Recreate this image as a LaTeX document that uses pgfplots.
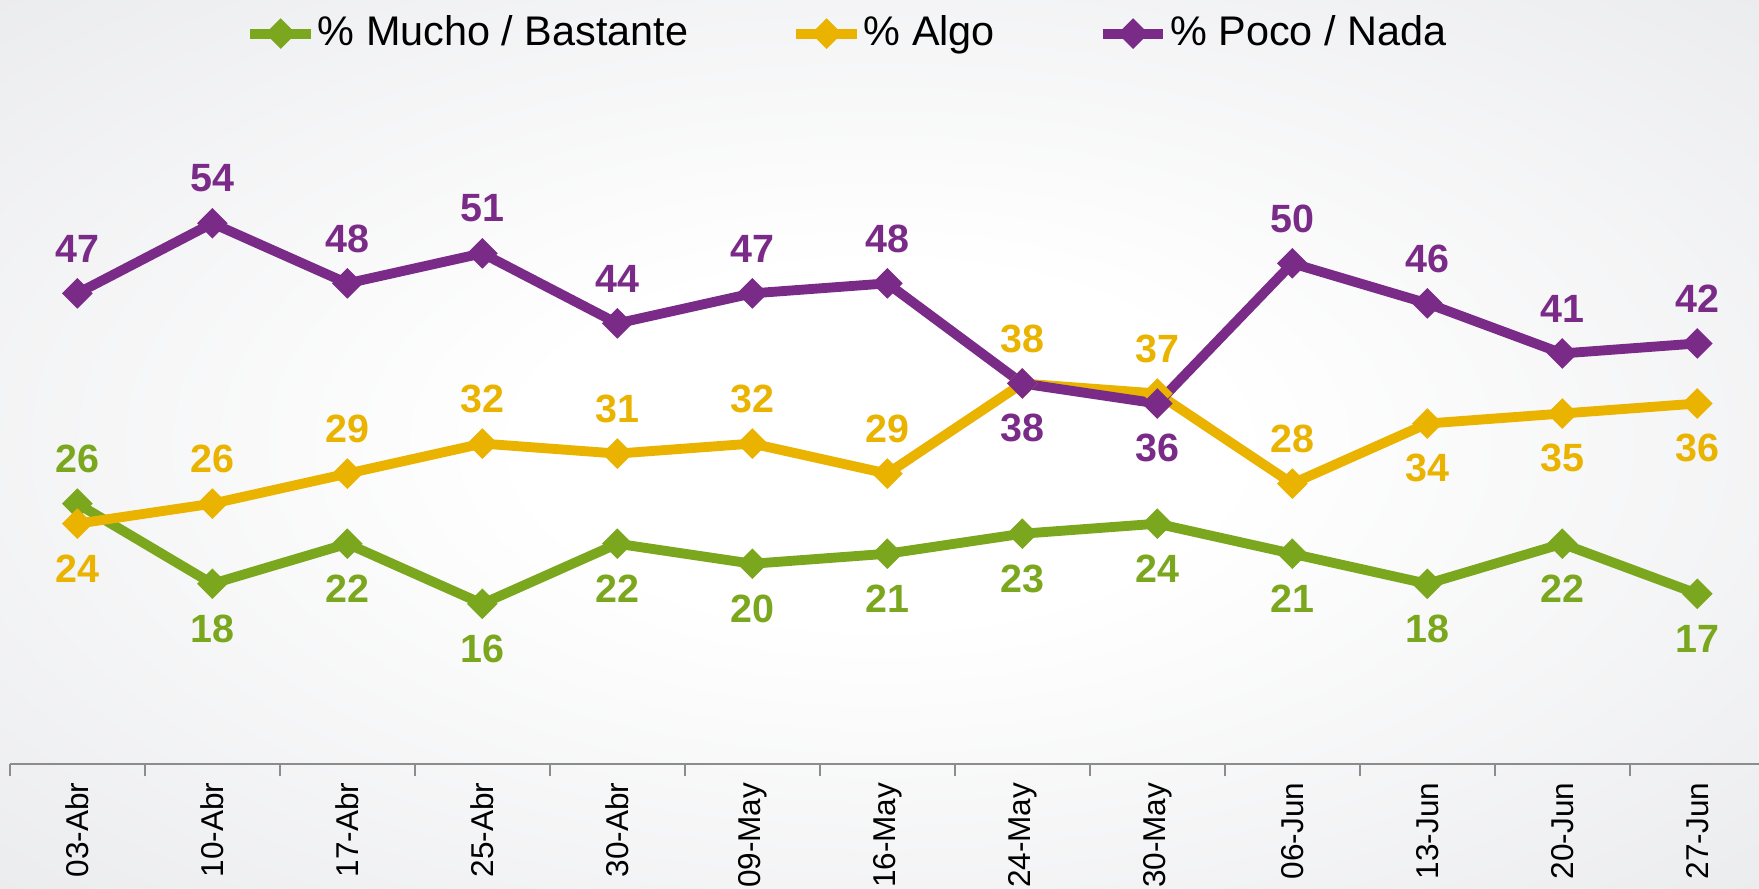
\documentclass[border=0pt]{standalone}
\usepackage{fontspec}
\setmainfont{Liberation Sans}
\usepackage{pgfplots}
\usepackage{pgfplotstable}
\pgfplotsset{compat=1.18}

\definecolor{mucho}{HTML}{7BA71E}
\definecolor{algo}{HTML}{E9B300}
\definecolor{poco}{HTML}{7A2B88}
\definecolor{bggray}{HTML}{E4E5E8}
\definecolor{axgray}{HTML}{8C8C8C}

\pgfdeclareradialshading{bgshade}{\pgfpoint{0bp}{0bp}}{color(0bp)=(white); color(10bp)=(white); color(45bp)=(bggray); color(100bp)=(bggray)}

% x, value, label offset (mm) for each series
\pgfplotstableread{
x m mo a ao p po
0 26 4 24 -4 47 4
1 18 -4 26 4 54 4
2 22 -4 29 4 48 4
3 16 -4 32 4 51 4
4 22 -4 31 4 44 4
5 20 -4 32 4 47 4
6 21 -4 29 4 48 4
7 23 -4 38 4 38 -4
8 24 -4 37 4 36 -4
9 21 -4 28 4 50 4
10 18 -4 34 -4 46 4
11 22 -4 35 -4 41 4
12 17 -4 36 -4 42 4
}\datatable

\pgfplotsset{
  serie/.style={
    color=#1, line width=2.5pt, mark=square*,
    mark size=2.5pt, mark options={rotate=45, solid, fill=#1, line width=0.5pt},
    nodes near coords, point meta=y,
    every node near coord/.append style={
      anchor=center, inner sep=0pt, yshift=\off mm,
      font=\bfseries\fontsize{10}{11}\selectfont, text=#1},
  },
}

\begin{document}
\begin{tikzpicture}
\shade[shading=bgshade] (-0.088,-1.11) rectangle (15.59,6.81);
\begin{axis}[
    scale only axis,
    width=15.59cm, height=6.81cm,
    xmin=-0.5, xmax=12.457,
    ymin=0, ymax=76.3,
    clip=false,
    /pgf/number format/assume math mode=true,
    axis x line*=bottom, axis y line=none,
    x axis line style={-, draw=axgray, line width=0.7pt},
    xtick={0,...,12},
    xticklabels={03-Abr,10-Abr,17-Abr,25-Abr,30-Abr,09-May,16-May,24-May,30-May,06-Jun,13-Jun,20-Jun,27-Jun},
    major tick length=0pt,
    minor xtick={-0.5,0.5,...,11.5},
    minor tick length=1.1mm,
    tick align=outside,
    tick style={axgray, line width=0.6pt},
    xticklabel style={rotate=90, anchor=east, inner sep=0pt,
      font=\fontsize{8}{9}\selectfont},
    xticklabel shift=1.6mm,
    legend columns=3,
    legend style={at={(0.4786,0.956)}, anchor=center, draw=none, fill=none,
      font=\fontsize{10.5}{12}\selectfont,
      nodes={inner xsep=0.5pt},
      /tikz/every even column/.append style={column sep=9mm}},
    legend image code/.code={\draw[mark repeat=2, mark phase=2]
      plot coordinates {(0cm,0cm) (0.27cm,0cm) (0.54cm,0cm)};},
]
\addplot[serie=mucho, visualization depends on={\thisrow{mo} \as \off}]
  table[x=x, y=m] {\datatable};
\addlegendentry{\% Mucho / Bastante}
\addplot[serie=algo, visualization depends on={\thisrow{ao} \as \off}]
  table[x=x, y=a] {\datatable};
\addlegendentry{\% Algo}
\addplot[serie=poco, visualization depends on={\thisrow{po} \as \off}]
  table[x=x, y=p] {\datatable};
\addlegendentry{\% Poco / Nada}
\end{axis}
\pgfresetboundingbox
\path[use as bounding box] (-0.088,-1.11) rectangle (15.59,6.81);
\end{tikzpicture}
\end{document}
